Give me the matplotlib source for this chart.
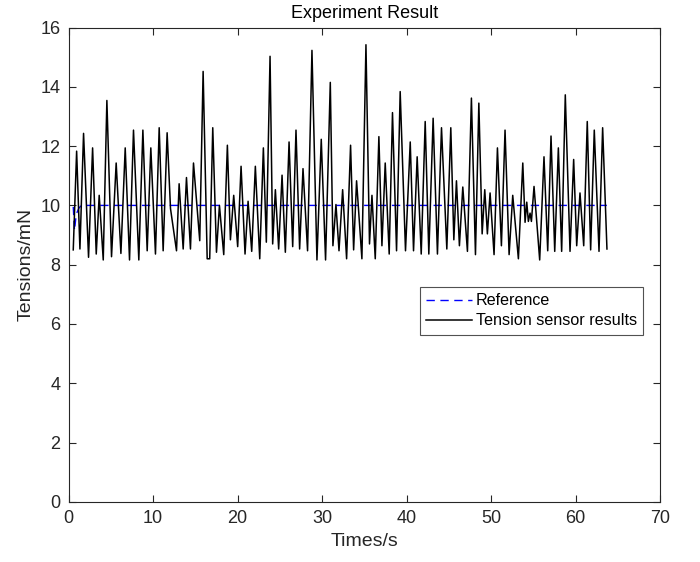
import matplotlib
matplotlib.use("Agg")
import matplotlib.pyplot as plt

# Peaks and troughs of the tension trace (time in s, tension in mN)
time_s = [
    0.55, 0.95, 1.34, 1.77, 2.36, 2.84, 3.27, 3.62, 4.10, 4.53,
    5.08, 5.63, 6.19, 6.70, 7.21, 7.68, 8.31, 8.79, 9.30, 9.73,
    10.28, 10.72, 11.19, 11.66, 12.06, 12.77, 13.08, 13.56, 13.95, 14.42,
    14.78, 15.52, 15.92, 16.40, 16.70, 17.06, 17.50, 17.85, 18.36, 18.79,
    19.15, 19.54, 20.01, 20.41, 20.88, 21.24, 21.67, 22.10, 22.62, 23.05,
    23.40, 23.84, 24.15, 24.47, 24.86, 25.26, 25.65, 26.09, 26.52, 26.91,
    27.34, 27.74, 28.28, 28.80, 29.39, 29.90, 30.41, 30.97, 31.28, 31.64,
    32.00, 32.43, 32.90, 33.37, 33.73, 34.08, 34.71, 35.19, 35.61, 35.90,
    36.29, 36.72, 37.08, 37.47, 37.94, 38.33, 38.81, 39.24, 39.87, 40.43,
    40.82, 41.25, 41.73, 42.20, 42.63, 43.14, 43.65, 44.13, 44.76, 45.23,
    45.59, 45.90, 46.25, 46.65, 47.20, 47.67, 48.15, 48.55, 48.94, 49.25,
    49.56, 49.88, 50.35, 50.75, 51.22, 51.65, 52.13, 52.56, 53.23, 53.75,
    54.02, 54.22, 54.41, 54.61, 54.77, 55.08, 55.75, 56.26, 56.70, 57.09,
    57.53, 57.96, 58.35, 58.78, 59.34, 59.77, 60.13, 60.52, 60.96, 61.38,
    61.78, 62.21, 62.77, 63.20, 63.71,
]
tension_mN = [
    8.50, 11.83, 8.53, 12.43, 8.25, 11.94, 8.36, 10.34, 8.16, 13.54,
    8.27, 11.43, 8.38, 11.94, 8.16, 12.54, 8.16, 12.54, 8.47, 11.94,
    8.36, 12.62, 8.47, 12.45, 9.89, 8.47, 10.73, 8.53, 10.94, 8.53,
    11.43, 8.81, 14.52, 8.20, 8.20, 12.62, 8.42, 10.00, 8.34, 12.03,
    8.84, 10.34, 8.61, 11.32, 8.36, 10.14, 8.45, 11.32, 8.20, 11.94,
    8.76, 15.03, 8.70, 10.53, 8.53, 11.02, 8.42, 12.14, 8.61, 12.54,
    8.53, 11.24, 8.47, 15.23, 8.16, 12.23, 8.16, 14.15, 8.64, 10.03,
    8.47, 10.53, 8.20, 12.03, 8.50, 10.83, 8.20, 15.42, 8.70, 10.34,
    8.20, 12.32, 8.64, 11.43, 8.36, 13.13, 8.47, 13.84, 8.47, 12.14,
    8.47, 11.64, 8.36, 12.83, 8.36, 12.94, 8.36, 12.62, 8.53, 12.62,
    8.84, 10.83, 8.64, 10.62, 8.45, 13.62, 8.34, 13.45, 9.04, 10.53,
    9.04, 10.42, 8.34, 11.94, 8.64, 12.54, 8.34, 10.34, 8.20, 11.43,
    9.43, 10.11, 9.46, 9.74, 9.46, 10.64, 8.16, 11.64, 8.47, 12.34,
    8.45, 11.94, 8.45, 13.73, 8.45, 11.55, 8.64, 10.42, 8.64, 12.83,
    8.50, 12.54, 8.45, 12.62, 8.53,
]

# Reference set point (small dip right at the start)
ref_time_s = [0.55, 0.70, 0.90, 1.20, 1.50, 63.70]
ref_mN = [9.95, 9.15, 9.70, 9.90, 10.00, 10.00]

plt.rcParams["font.family"] = ["Liberation Sans", "DejaVu Sans"]
ink = "#262626"

fig = plt.figure(figsize=(7.0, 5.62), dpi=100)
ax = fig.add_axes([0.098, 0.107, 0.845, 0.844])

ax.plot(ref_time_s, ref_mN, color="#0000ff", linestyle=(0, (6, 4)), linewidth=1.0, label="Reference")
ax.plot(time_s, tension_mN, color="black", linewidth=1.1, label="Tension sensor results")

ax.set_xlim(0, 70)
ax.set_ylim(0, 16)
ax.set_xticks(range(0, 71, 10))
ax.set_yticks(range(0, 17, 2))
ax.tick_params(direction="in", length=5, width=0.8, top=True, right=True,
               labelsize=13, colors=ink, pad=6)
for spine in ax.spines.values():
    spine.set_color(ink)
    spine.set_linewidth(0.8)

ax.set_xlabel("Times/s", fontsize=14, color=ink)
ax.set_ylabel("Tensions/mN", fontsize=14, color=ink)
ax.set_title("Experiment Result", fontsize=13, color="black", pad=7)

leg = ax.legend(loc="upper left", bbox_to_anchor=(0.594, 0.453), borderaxespad=0,
                fontsize=11.6, frameon=True, fancybox=False, handlelength=2.8,
                handletextpad=0.25, borderpad=0.4, labelspacing=0.3)
leg.get_frame().set_edgecolor(ink)
leg.get_frame().set_linewidth(0.8)

fig.savefig("out.png", dpi=100)
